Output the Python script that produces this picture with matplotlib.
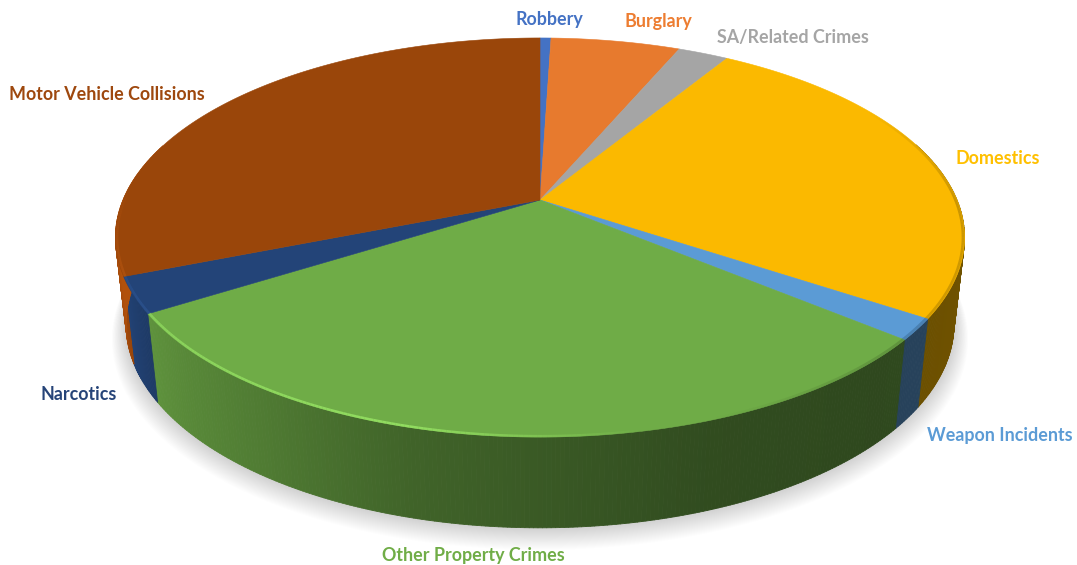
import numpy as np
import matplotlib
matplotlib.use("Agg")
import matplotlib.pyplot as plt
from matplotlib.collections import PolyCollection, LineCollection
from matplotlib.colors import to_rgb

categories = ["Robbery", "Burglary", "SA/Related Crimes", "Domestics", "Weapon Incidents",
              "Other Property Crimes", "Narcotics", "Motor Vehicle Collisions"]
values = [0.5, 5.9, 2.3, 25.6, 1.7, 30.0, 2.9, 31.0]
colors = ["#4472C4", "#E77A2E", "#A5A5A5", "#FBB900", "#5B9BD5", "#6FAC47", "#234478", "#9A460A"]
text_colors = ["#4472C4", "#ED7D31", "#A5A5A5", "#FFC000", "#5B9BD5", "#70AD47", "#264478", "#9E480E"]
label_xy = [(549, 19), (658, 22), (793, 37), (998, 159), (1000, 435), (473, 556), (79, 395), (107, 95)]

# projection of the pie disc
CX, CY, A, B, K = 540.0, 200.0, 417.0, 192.5, 0.188
SX, SY, DY = 0.975, 1.02, 86.0


def top(theta):
    t = np.radians(theta)
    u, v = np.sin(t), -np.cos(t)
    w = 1 - K * v
    return A * u / w, B * v / w


def lower(theta, grow=1.0, dy=0.0):
    x, y = top(theta)
    return CX + x * SX * grow, CY + y * SY * grow + DY + dy


def shade(theta):
    return np.interp(theta, [0, 100, 135, 160, 180, 195, 215, 238, 262, 300, 360],
                     [0.45, 0.45, 0.42, 0.44, 0.52, 0.58, 0.72, 0.85, 1.15, 1.15, 1.15])


plt.rcParams["font.family"] = ["Lato", "DejaVu Sans"]
fig = plt.figure(figsize=(10.77, 5.65), dpi=100)
ax = fig.add_axes([0, 0, 1, 1])
ax.set_xlim(0, 1077)
ax.set_ylim(565, 0)
ax.axis("off")

# soft shadow under the pie
ring = np.linspace(0, 360, 361)
for i in range(24):
    g = 1.0 + 0.0015 * i
    sx, sy = lower(ring, g, 1.0 * i * 0.6)
    ax.fill(sx, sy, color="#000000", alpha=0.0065, lw=0, zorder=1)

edges = np.concatenate([[0], np.cumsum(values)]) / np.sum(values) * 360.0

# side wall, back to front
quads, quad_cols = [], []
for i, col in enumerate(colors):
    steps = np.arange(edges[i], edges[i + 1], 0.5)
    steps = np.append(steps, edges[i + 1])
    for a, b in zip(steps[:-1], steps[1:]):
        mid = (a + b) / 2
        if -np.cos(np.radians(mid)) < -0.3:
            continue
        x0, y0 = top(a)
        x1, y1 = top(b)
        lx0, ly0 = lower(a)
        lx1, ly1 = lower(b)
        quads.append([(CX + x0, CY + y0), (CX + x1, CY + y1), (lx1, ly1), (lx0, ly0)])
        quad_cols.append(tuple(min(1, c * shade(mid)) for c in to_rgb(col)))
ax.add_collection(PolyCollection(quads, facecolors=quad_cols, edgecolors=quad_cols, linewidths=0.6, zorder=2))

# top faces
for i, col in enumerate(colors):
    th = np.linspace(edges[i], edges[i + 1], 240)
    x, y = top(th)
    ax.fill(np.r_[CX, CX + x], np.r_[CY, CY + y], color=col, lw=0.4, zorder=3)

# bevel along the rim
segs, seg_cols = [], []
for i, col in enumerate(colors):
    th = np.linspace(edges[i], edges[i + 1], 200)
    x, y = top(th)
    px, py = CX + x * 0.996, CY + y * 0.996
    for j in range(len(th) - 1):
        m = (th[j] + th[j + 1]) / 2
        if m > 160:
            al = np.interp(m, [168, 195, 235, 250, 275, 360], [0, 0.8, 0.6, 0.3, 0.0, 0.0])
            rgb = tuple(min(1, c * 1.3 + 0.04) for c in to_rgb(col))
        else:
            al = np.interp(m, [60, 90, 125, 160], [0, 0.35, 0.3, 0])
            rgb = tuple(c * 0.45 for c in to_rgb(col))
        segs.append([(px[j], py[j]), (px[j + 1], py[j + 1])])
        seg_cols.append((*rgb, al))
ax.add_collection(LineCollection(segs, colors=seg_cols, linewidths=1.8, zorder=4))

# labels
for name, col, (lx, ly) in zip(categories, text_colors, label_xy):
    ax.text(lx, ly, name, color=col, fontsize=12.9, fontweight="bold", ha="center", va="center", zorder=5)

fig.savefig("out.png", dpi=100)
